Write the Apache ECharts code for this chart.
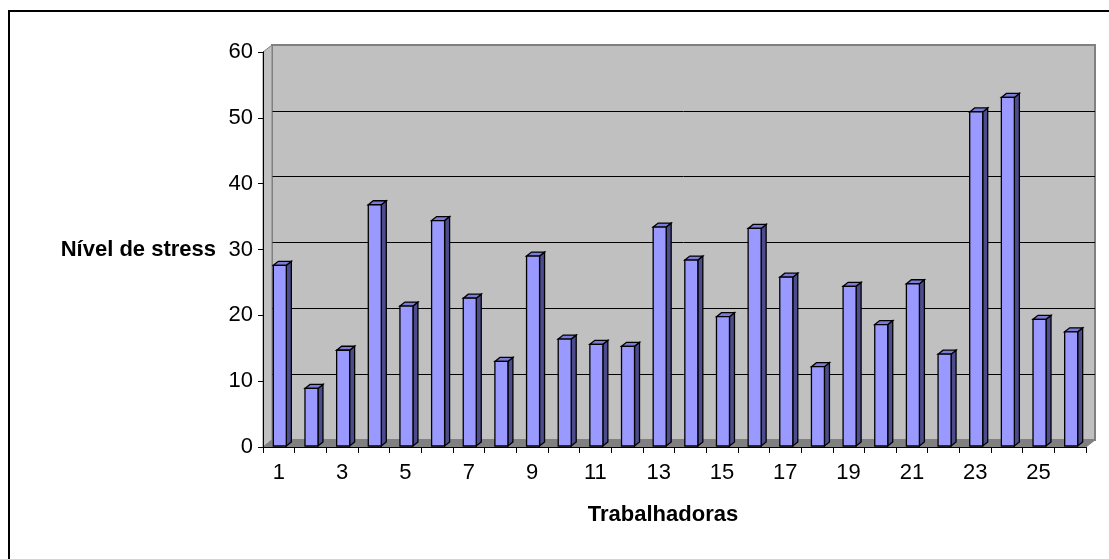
<!DOCTYPE html>
<html>
<head>
<meta charset="utf-8">
<script src="https://cdn.jsdelivr.net/npm/echarts@6/dist/echarts.min.js"></script>
<style>
  html, body { margin: 0; padding: 0; background: #fff; }
  #main { width: 1109px; height: 559px; }
</style>
</head>
<body>
<div id="main"></div>
<script>
// dados
const trabalhadoras = ['1','2','3','4','5','6','7','8','9','10','11','12','13',
  '14','15','16','17','18','19','20','21','22','23','24','25','26']
const nivelStress = [27.6, 8.9, 14.7, 36.8, 21.4, 34.4, 22.6, 13.0, 29.0, 16.4, 15.6, 15.3, 33.4,
  28.4, 19.8, 33.2, 25.8, 12.2, 24.4, 18.6, 24.8, 14.1, 50.9, 53.1, 19.4, 17.5]
const yTicks = [0, 10, 20, 30, 40, 50, 60]

// layout (pixels)
const front = { left: 263, top: 52, width: 823, height: 395 }
const depth = { dx: 9, dy: -7 }
const barW = 13, barDx = 5, barDy = -4
const font = 'Liberation Sans, Arial, sans-serif'

const myChart = echarts.init(document.getElementById('main'))

const fL = front.left, fT = front.top, fR = front.left + front.width, fB = front.top + front.height
const bL = fL + depth.dx, bT = fT + depth.dy, bR = fR + depth.dx, bB = fB + depth.dy

const renderBar = (params, api) => {
  const idx = api.value(0)
  const top = api.coord([idx, api.value(1)])
  const base = api.coord([idx, 0])
  const x0 = top[0] - barW / 2 + 1, x1 = x0 + barW
  const yt = top[1], yb = base[1] - 1
  const stroke = { stroke: '#000', lineWidth: 1.3 }
  return {
    type: 'group',
    children: [
      { type: 'polygon', shape: { points: [[x1, yt], [x1 + barDx, yt + barDy], [x1 + barDx, yb + barDy], [x1, yb]] },
        style: { fill: '#4C4C8C', ...stroke } },
      { type: 'polygon', shape: { points: [[x0, yt], [x0 + barDx, yt + barDy], [x1 + barDx, yt + barDy], [x1, yt]] },
        style: { fill: '#7B7BD8', ...stroke } },
      { type: 'rect', shape: { x: x0, y: yt, width: barW, height: yb - yt },
        style: { fill: '#9999FF', ...stroke } }
    ]
  }
}

let option = {
  backgroundColor: '#fff',
  animation: false,
  grid: [
    { left: fL, top: fT, width: front.width, height: front.height },
    { left: bL, top: bT, width: front.width, height: front.height, show: true,
      backgroundColor: '#C0C0C0', borderColor: '#808080', borderWidth: 2 }
  ],
  xAxis: [
    {
      type: 'category', gridIndex: 0, data: trabalhadoras, boundaryGap: true,
      axisLine: { lineStyle: { color: '#000', width: 1 } },
      axisTick: { show: true, interval: 0, length: 6, lineStyle: { color: '#000' } },
      axisLabel: { interval: 1, margin: 15, color: '#000', fontSize: 22, fontFamily: font },
      z: 5
    },
    { type: 'category', gridIndex: 1, data: trabalhadoras, show: false }
  ],
  yAxis: [
    {
      type: 'value', gridIndex: 0, min: 0, max: 60, interval: 10,
      axisLine: { show: true, lineStyle: { color: '#000', width: 1 } },
      axisTick: { show: true, length: 5, lineStyle: { color: '#000' } },
      axisLabel: { margin: 10, color: '#000', fontSize: 22, fontFamily: font,
        formatter: v => yTicks.includes(v) ? String(v) : '' },
      splitLine: { show: false },
      z: 5
    },
    {
      type: 'value', gridIndex: 1, min: 0, max: 60, interval: 10,
      axisLine: { show: false }, axisTick: { show: false }, axisLabel: { show: false },
      splitLine: { show: true, lineStyle: { color: ['#808080', '#000', '#000', '#000', '#000', '#000', '#808080'], width: 1 } }
    }
  ],
  graphic: [
    // moldura
    { type: 'rect', z: 0, shape: { x: 9, y: 11, width: 1200, height: 700 },
      style: { fill: 'none', stroke: '#000', lineWidth: 2 } },
    // parede lateral
    { type: 'polygon', z: 1, shape: { points: [[fL, fT], [bL, bT], [bL, bB], [fL, fB]] },
      style: { fill: '#C0C0C0', stroke: '#808080', lineWidth: 1 } },
    // chão
    { type: 'polygon', z: 1, shape: { points: [[fL, fB], [bL, bB], [bR, bB], [fR, fB]] },
      style: { fill: '#808080', stroke: '#808080', lineWidth: 1 } },
    { type: 'text', z: 10, style: { text: 'Nível de stress', x: 216, y: 250, align: 'right', verticalAlign: 'middle',
      font: 'bold 22px ' + font, fill: '#000' } },
    { type: 'text', z: 10, style: { text: 'Trabalhadoras', x: 663, y: 515, align: 'center', verticalAlign: 'middle',
      font: 'bold 22px ' + font, fill: '#000' } }
  ],
  series: [{
    type: 'custom',
    xAxisIndex: 0, yAxisIndex: 0,
    renderItem: renderBar,
    encode: { x: 0, y: 1 },
    data: nivelStress.map((v, i) => [i, v]),
    z: 4
  }]
}

myChart.setOption(option, true)
</script>
</body>
</html>
